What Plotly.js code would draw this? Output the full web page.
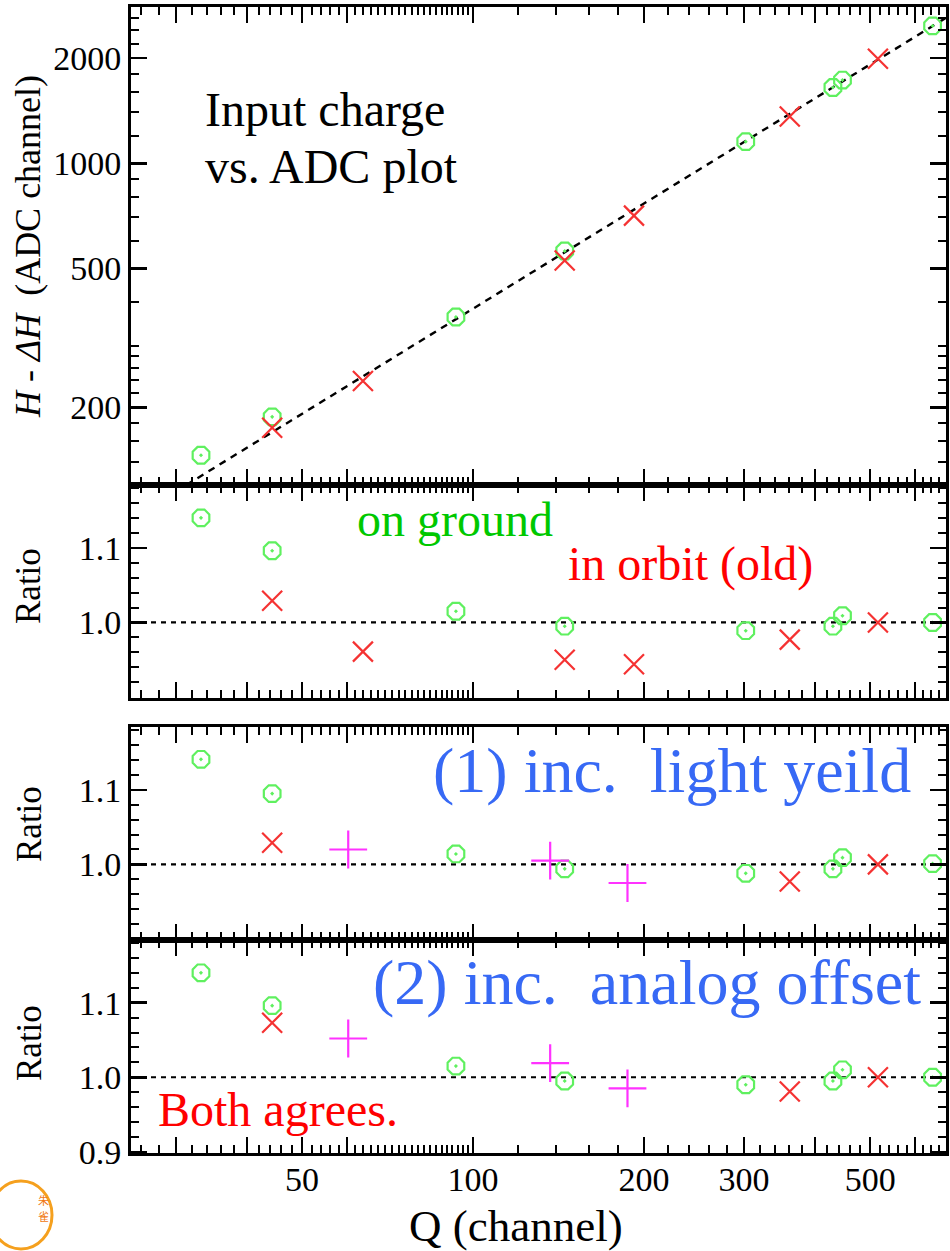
<!DOCTYPE html>
<html>
<head>
<meta charset="utf-8">
<script src="https://cdn.plot.ly/plotly-3.0.1.min.js"></script>
<style>
  html, body { margin: 0; padding: 0; background: #fff; }
  #chart { width: 950px; height: 1251px; }
</style>
</head>
<body>
<div id="chart"></div>
<script>
// ---------------- data ----------------
const qGround = [33.2, 44.3, 93.3, 145, 302, 430, 447, 644];
const hGround = [146, 188, 363, 561, 1153, 1647, 1730, 2473];
const qOld = [44.3, 64, 145, 192, 361, 516];
const hOld = [175, 238, 527, 708, 1360, 1990];
const fitQ = [25, 680];
const fitH = [95.9, 2608];

const unityQ = [25, 680];
const unityR = [1.0, 1.0];

// panel 2 : on ground / in orbit (old)
const rGround2 = [1.140, 1.096, 1.015, 0.995, 0.989, 0.995, 1.009, 1.000];
const rOld2 = [1.029, 0.961, 0.950, 0.944, 0.977, 1.000];

// panel 3 : (1) inc. light yield
const rGround3 = [1.141, 1.095, 1.014, 0.994, 0.988, 0.994, 1.009, 1.001];
const qOldKept = [44.3, 361, 516];
const rOld3 = [1.029, 0.977, 1.000];
const qNew = [60.3, 136.7, 187];
const rNew3 = [1.020, 1.005, 0.975];

// panel 4 : (2) inc. analog offset
const rGround4 = [1.140, 1.096, 1.015, 0.995, 0.990, 0.995, 1.010, 1.000];
const rOld4 = [1.073, 0.981, 1.000];
const rNew4 = [1.052, 1.019, 0.985];

// tick values
const xMajor = [30, 40, 50, 60, 100, 200, 300, 400, 500, 600];
const xMajorText = ['', '', '50', '', '100', '200', '300', '', '500', ''];
const xMinor = [26, 28, 32, 34, 36, 38, 42, 44, 46, 48, 52, 54, 56, 58,
  62, 64, 66, 68, 70, 72, 74, 76, 78, 80, 82, 84, 86, 88, 90, 92, 94, 96, 98,
  120, 140, 160, 180, 220, 240, 260, 280, 320, 340, 360, 380,
  420, 440, 460, 480, 520, 540, 560, 580, 620, 640, 660];
const hMajor = [200, 500, 1000, 2000];
const hMajorText = ['200', '500', '1000', '2000'];
const hMinor = [140, 160, 180, 220, 240, 260, 280, 300, 400, 600, 700, 800, 900,
  1200, 1400, 1600, 1800, 2200, 2400, 2600];
const rMajor = [1.0, 1.1];
const rMajorText = ['1.0', '1.1'];
const rMajor4 = [0.9, 1.0, 1.1];
const rMajorText4 = ['0.9', '1.0', '1.1'];
const rMinor = [0.92, 0.94, 0.96, 0.98, 1.02, 1.04, 1.06, 1.08, 1.12, 1.14, 1.16, 1.18];

// ---------------- styling ----------------
const SERIF = '"Liberation Serif", "Times New Roman", serif';
const GREEN_M = 'rgb(95,240,95)';
const RED_M = 'rgb(245,50,50)';
const MAG_M = 'rgb(255,50,255)';

// pixel helpers for paper positions (plot area 131..946 x, 7..1153 y)
const L = 131, W = 815, T = 7, H = 1146;
const px = x => (x - L) / W;
const py = y => (T + H - y) / H;

function groundTrace(y, xa, ya) {
  return { x: qGround, y: y, xaxis: xa, yaxis: ya, type: 'scatter', mode: 'markers',
    marker: { symbol: 'octagon-open-dot', size: 18, color: GREEN_M, line: { width: 2.2, color: GREEN_M } },
    cliponaxis: false, hoverinfo: 'skip' };
}
function oldTrace(q, y, xa, ya) {
  return { x: q, y: y, xaxis: xa, yaxis: ya, type: 'scatter', mode: 'markers',
    marker: { symbol: 'x-thin-open', size: 20, color: RED_M, line: { width: 2.2, color: RED_M } },
    cliponaxis: false, hoverinfo: 'skip' };
}
function newTrace(y, xa, ya) {
  return { x: qNew, y: y, xaxis: xa, yaxis: ya, type: 'scatter', mode: 'markers',
    marker: { symbol: 'cross-thin-open', size: 27, color: MAG_M, line: { width: 2.2, color: MAG_M } },
    cliponaxis: false, hoverinfo: 'skip' };
}
function unityTrace(xa, ya) {
  return { x: unityQ, y: unityR, xaxis: xa, yaxis: ya, type: 'scatter', mode: 'lines',
    line: { color: 'black', width: 2.2, dash: '5px,5px' }, hoverinfo: 'skip' };
}

const traces = [
  { x: fitQ, y: fitH, xaxis: 'x', yaxis: 'y', type: 'scatter', mode: 'lines',
    line: { color: 'black', width: 2.4, dash: '7px,6px' }, hoverinfo: 'skip' },
  groundTrace(hGround, 'x', 'y'),
  oldTrace(qOld, hOld, 'x', 'y'),

  unityTrace('x2', 'y2'),
  groundTrace(rGround2, 'x2', 'y2'),
  oldTrace(qOld, rOld2, 'x2', 'y2'),

  unityTrace('x3', 'y3'),
  groundTrace(rGround3, 'x3', 'y3'),
  oldTrace(qOldKept, rOld3, 'x3', 'y3'),
  newTrace(rNew3, 'x3', 'y3'),

  unityTrace('x4', 'y4'),
  groundTrace(rGround4, 'x4', 'y4'),
  oldTrace(qOldKept, rOld4, 'x4', 'y4'),
  newTrace(rNew4, 'x4', 'y4'),
];

function tickFont() { return { family: SERIF, size: 34, color: 'black' }; }
function xAxis(anchor, showLabels) {
  return {
    type: 'log', range: [Math.log10(25), Math.log10(680)], anchor: anchor,
    tickmode: 'array', tickvals: xMajor, ticktext: xMajorText,
    showticklabels: showLabels, tickfont: tickFont(), ticklabelstandoff: -6,
    ticks: 'inside', ticklen: 16, tickwidth: 2.5, tickcolor: 'black',
    minor: { tickmode: 'array', tickvals: xMinor, ticks: 'inside', ticklen: 8, tickwidth: 2, tickcolor: 'black', showgrid: false },
    showline: true, linecolor: 'black', linewidth: 3, mirror: 'ticks',
    showgrid: false, zeroline: false, fixedrange: true
  };
}
function rAxis(anchor, domain, vals, texts) {
  return {
    range: [0.8985, 1.184], domain: domain, anchor: anchor,
    tickmode: 'array', tickvals: vals, ticktext: texts,
    tickfont: tickFont(), ticklabelstandoff: 0,
    ticks: 'inside', ticklen: 16, tickwidth: 2.5, tickcolor: 'black',
    minor: { tickmode: 'array', tickvals: rMinor, ticks: 'inside', ticklen: 8, tickwidth: 2, tickcolor: 'black', showgrid: false },
    showline: true, linecolor: 'black', linewidth: 3, mirror: 'ticks',
    showgrid: false, zeroline: false, fixedrange: true
  };
}

function note(text, xPix, yPix, size, color, opts) {
  return Object.assign({
    text: text, xref: 'paper', yref: 'paper', x: px(xPix), y: py(yPix),
    xanchor: 'left', yanchor: 'middle', showarrow: false,
    font: { family: SERIF, size: size, color: color }
  }, opts || {});
}

const annotations = [
  note('Input charge', 203, 109, 48, 'black'),
  note('vs. ADC plot', 203, 166, 48, 'black'),
  note('on ground', 355, 519, 48, 'rgb(0,200,0)'),
  note('in orbit (old)', 566, 564, 48, 'rgb(255,0,0)'),
  note('(1) inc.&nbsp; light yeild', 431, 770, 64, 'rgb(55,105,245)'),
  note('(2) inc.&nbsp; analog offset', 371, 982, 64, 'rgb(55,105,245)'),
  note('Both agrees.', 156, 1109, 48, 'rgb(255,0,0)'),
  // axis titles
  note('<i>H</i> - <i>ΔH</i>&nbsp; (ADC channel)', 28, 247, 36, 'black', { xanchor: 'center', textangle: -90 }),
  note('Ratio', 29, 586, 35, 'black', { xanchor: 'center', textangle: -90 }),
  note('Ratio', 29, 824, 35, 'black', { xanchor: 'center', textangle: -90 }),
  note('Ratio', 29, 1043, 35, 'black', { xanchor: 'center', textangle: -90 }),
  note('Q (channel)', 516, 1226, 45, 'black', { xanchor: 'center' }),
  // small logo text
  note('朱', 36, 1200, 11, 'rgb(240,120,20)', { font: { family: 'Noto Sans CJK SC', size: 11, color: 'rgb(240,120,20)' } }),
  note('雀', 36, 1216, 11, 'rgb(240,120,20)', { font: { family: 'Noto Sans CJK SC', size: 11, color: 'rgb(240,120,20)' } })
];

const shapes = [
  { type: 'circle', xref: 'paper', yref: 'paper', x0: px(-10), x1: px(52), y0: py(1249), y1: py(1181),
    line: { color: 'rgb(245,160,30)', width: 3 }, fillcolor: 'rgba(0,0,0,0)' }
];

const layout = {
  width: 950, height: 1251,
  margin: { l: L, r: 950 - L - W, t: T, b: 1251 - T - H },
  paper_bgcolor: 'white', plot_bgcolor: 'white',
  font: { family: SERIF, size: 34, color: 'black' },
  showlegend: false,
  xaxis: xAxis('y', false),
  xaxis2: Object.assign(xAxis('y2', false), { matches: 'x' }),
  xaxis3: Object.assign(xAxis('y3', false), { matches: 'x' }),
  xaxis4: Object.assign(xAxis('y4', true), { matches: 'x' }),
  yaxis: {
    type: 'log', range: [Math.log10(120), Math.log10(2800)], domain: [py(485), 1], anchor: 'x',
    tickmode: 'array', tickvals: hMajor, ticktext: hMajorText,
    tickfont: tickFont(), ticklabelstandoff: 0,
    ticks: 'inside', ticklen: 16, tickwidth: 2.5, tickcolor: 'black',
    minor: { tickmode: 'array', tickvals: hMinor, ticks: 'inside', ticklen: 8, tickwidth: 2, tickcolor: 'black', showgrid: false },
    showline: true, linecolor: 'black', linewidth: 3, mirror: 'ticks',
    showgrid: false, zeroline: false, fixedrange: true
  },
  yaxis2: rAxis('x2', [py(698.3), py(485)], rMajor, rMajorText),
  yaxis3: rAxis('x3', [py(940), py(727.3)], rMajor, rMajorText),
  yaxis4: rAxis('x4', [0, py(940)], rMajor4, rMajorText4),
  annotations: annotations,
  shapes: shapes
};

Plotly.newPlot('chart', traces, layout, { displayModeBar: false, staticPlot: true });
</script>
</body>
</html>
